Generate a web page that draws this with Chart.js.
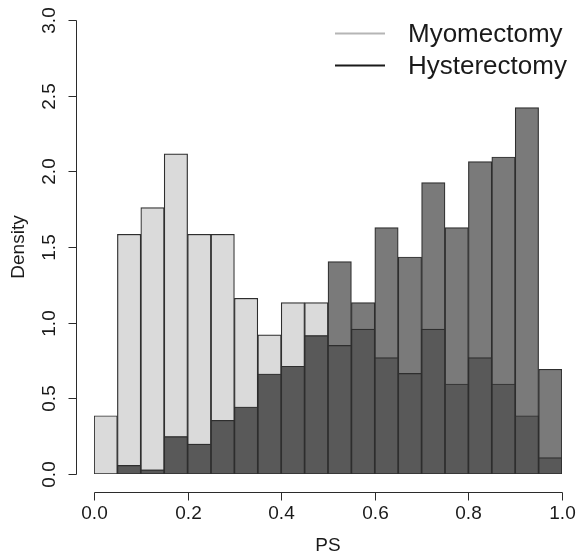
<!DOCTYPE html>
<html>
<head>
<meta charset="utf-8">
<script src="https://cdn.jsdelivr.net/npm/chart.js@4/dist/chart.umd.min.js"></script>
<style>
html,body{margin:0;padding:0;background:#fff;}
#wrap{width:577px;height:557px;}
</style>
</head>
<body>
<div id="wrap"><canvas id="c" width="577" height="557"></canvas></div>
<script>
// Bins of PS (width 0.05)
const bins = ["0.00-0.05","0.05-0.10","0.10-0.15","0.15-0.20","0.20-0.25","0.25-0.30","0.30-0.35","0.35-0.40","0.40-0.45","0.45-0.50",
              "0.50-0.55","0.55-0.60","0.60-0.65","0.65-0.70","0.70-0.75","0.75-0.80","0.80-0.85","0.85-0.90","0.90-0.95","0.95-1.00"];
// Density values
const myomectomy   = [0.385, 1.584, 1.76, 2.115, 1.584, 1.584, 1.161, 0.919, 1.132, 1.132,
                      0.85, 0.958, 0.769, 0.665, 0.958, 0.595, 0.769, 0.595, 0.385, 0.108];
const hysterectomy = [0.0, 0.057, 0.028, 0.247, 0.198, 0.355, 0.443, 0.661, 0.712, 0.914,
                      1.403, 1.132, 1.628, 1.434, 1.925, 1.628, 2.064, 2.095, 2.421, 0.692];
const xTicks = [0.0, 0.2, 0.4, 0.6, 0.8, 1.0];
const yTicks = [0.0, 0.5, 1.0, 1.5, 2.0, 2.5, 3.0];
const seriesNames = ["Myomectomy", "Hysterectomy"];

// overlap region of the two histograms (shown darker)
const overlap = myomectomy.map((v, i) => Math.min(v, hysterectomy[i]));

const FONT = '"Liberation Sans", Arial, Helvetica, sans-serif';
const AXIS = '#2b2b2b';

const rAxes = {
  id: 'rAxes',
  afterDraw(chart) {
    const ctx = chart.ctx;
    const xs = chart.scales.x2, ys = chart.scales.y;
    ctx.save();
    ctx.strokeStyle = AXIS;
    ctx.fillStyle = '#1a1a1a';
    ctx.lineWidth = 1;
    // y axis
    const yAxisX = 76.5;
    ctx.beginPath();
    ctx.moveTo(yAxisX, Math.round(ys.getPixelForValue(yTicks[0])) + 0.5);
    ctx.lineTo(yAxisX, Math.round(ys.getPixelForValue(yTicks[yTicks.length - 1])) + 0.5);
    ctx.stroke();
    ctx.font = '19px ' + FONT;
    ctx.textAlign = 'center';
    ctx.textBaseline = 'middle';
    yTicks.forEach(v => {
      const py = Math.round(ys.getPixelForValue(v)) + 0.5;
      ctx.beginPath();
      ctx.moveTo(yAxisX, py);
      ctx.lineTo(yAxisX - 8, py);
      ctx.stroke();
      ctx.save();
      ctx.translate(50, py);
      ctx.rotate(-Math.PI / 2);
      ctx.fillText(v.toFixed(1), 0, 0);
      ctx.restore();
    });
    // x axis
    const xAxisY = 492.5;
    ctx.beginPath();
    ctx.moveTo(Math.round(xs.getPixelForValue(xTicks[0])) + 0.5, xAxisY);
    ctx.lineTo(Math.round(xs.getPixelForValue(xTicks[xTicks.length - 1])) + 0.5, xAxisY);
    ctx.stroke();
    xTicks.forEach(v => {
      const px = Math.round(xs.getPixelForValue(v)) + 0.5;
      ctx.beginPath();
      ctx.moveTo(px, xAxisY);
      ctx.lineTo(px, xAxisY + 8);
      ctx.stroke();
      ctx.fillText(v.toFixed(1), px, 514);
    });
    // axis titles
    const ca = chart.chartArea;
    ctx.fillText('PS', (ca.left + ca.right) / 2, 546);
    ctx.save();
    ctx.translate(19, (ca.top + ca.bottom) / 2);
    ctx.rotate(-Math.PI / 2);
    ctx.fillText('Density', 0, 0);
    ctx.restore();
    // legend
    ctx.font = '26px ' + FONT;
    ctx.textAlign = 'left';
    const legendItems = [{name: seriesNames[0], color: '#b5b5b5', y: 33.5},
                         {name: seriesNames[1], color: '#1a1a1a', y: 65.5}];
    legendItems.forEach(it => {
      ctx.strokeStyle = it.color;
      ctx.lineWidth = 2;
      ctx.beginPath();
      ctx.moveTo(335, it.y);
      ctx.lineTo(385, it.y);
      ctx.stroke();
      ctx.fillStyle = '#1a1a1a';
      ctx.fillText(it.name, 408, it.y + 1);
    });
    ctx.restore();
  }
};

new Chart(document.getElementById('c'), {
  type: 'bar',
  data: {
    labels: bins,
    datasets: [
      {label: 'overlap', data: overlap, backgroundColor: '#595959', borderColor: '#2e2e2e', order: 0},
      {label: seriesNames[1], data: hysterectomy, backgroundColor: '#7a7a7a', borderColor: '#2e2e2e', order: 1},
      {label: seriesNames[0], data: myomectomy, backgroundColor: '#dadada', borderColor: '#2e2e2e', order: 2}
    ]
  },
  options: {
    responsive: false,
    animation: false,
    events: [],
    layout: {padding: {left: 94, right: 15, top: 20, bottom: 83}},
    datasets: {bar: {grouped: false, barPercentage: 1, categoryPercentage: 1, borderWidth: 1.2, borderSkipped: false}},
    plugins: {legend: {display: false}, tooltip: {enabled: false}},
    scales: {
      x: {display: false, offset: true},
      x2: {type: 'linear', display: false, offset: false, min: 0, max: 1},
      y: {display: false, min: 0, max: 3}
    }
  },
  plugins: [rAxes]
});
</script>
</body>
</html>
